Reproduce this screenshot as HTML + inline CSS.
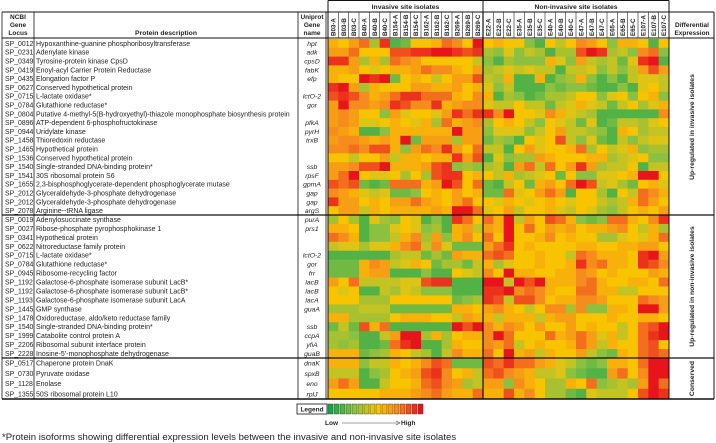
<!DOCTYPE html>
<html><head><meta charset="utf-8">
<style>
html,body{margin:0;padding:0;background:#fff;}
svg{display:block;font-family:"Liberation Sans",Arial,sans-serif;}
</style></head>
<body>
<svg id="chart" width="716" height="443" viewBox="0 0 716 443"></svg>
<script>
const isolates = ["B03-A","B03-B","B03-C","B40-A","B40-B","B40-C","B154-A","B154-B","B154-C","B162-A","B162-B","B162-C","B269-A","B269-B","B269-C",
"E22-A","E22-B","E22-C","E35-A","E35-B","E35-C","E40-A","E40-B","E40-C","E47-A","E47-B","E47-C","E65-A","E65-B","E65-C","E107-A","E107-B","E107-C"];
const loci = ["SP_0012","SP_0231","SP_0349","SP_0419","SP_0435","SP_0627","SP_0715","SP_0784","SP_0804","SP_0896","SP_0944","SP_1458","SP_1465","SP_1536","SP_1540","SP_1541","SP_1655","SP_2012","SP_2012","SP_2078",
"SP_0019","SP_0027","SP_0341","SP_0622","SP_0715","SP_0784","SP_0945","SP_1192","SP_1192","SP_1193","SP_1445","SP_1478","SP_1540","SP_1999","SP_2206","SP_2228",
"SP_0517","SP_0730","SP_1128","SP_1355"];
const descriptions = ["Hypoxanthine-guanine phosphoribosyltransferase","Adenylate kinase","Tyrosine-protein kinase CpsD","Enoyl-acyl Carrier Protein Reductase","Elongation factor P","Conserved hypothetical protein","L-lactate oxidase*","Glutathione reductase*","Putative 4-methyl-5(B-hydroxyethyl)-thiazole monophosphate biosynthesis protein","ATP-dependent 6-phosphofructokinase","Uridylate kinase","Thioredoxin reductase","Hypothetical protein","Conserved hypothetical protein","Single-stranded DNA-binding protein*","30S ribosomal protein S6","2,3-bisphosphoglycerate-dependent phosphoglycerate mutase","Glyceraldehyde-3-phosphate dehydrogenase","Glyceraldehyde-3-phosphate dehydrogenase","Arginine--tRNA ligase",
"Adenylosuccinate synthase","Ribose-phosphate pyrophosphokinase 1","Hypothetical protein","Nitroreductase family protein","L-lactate oxidase*","Glutathione reductase*","Ribosome-recycling factor","Galactose-6-phosphate isomerase subunit LacB*","Galactose-6-phosphate isomerase subunit LacB*","Galactose-6-phosphate isomerase subunit LacA","GMP synthase","Oxidoreductase, aldo/keto reductase family","Single-stranded DNA-binding protein*","Catabolite control protein A","Ribosomal subunit interface protein","Inosine-5'-monophosphate dehydrogenase",
"Chaperone protein DnaK","Pyruvate oxidase","Enolase","50S ribosomal protein L10"];
const genes = ["hpt","adk","cpsD","fabK","efp","","lctO-2","gor","","pfkA","pyrH","trxB","","","ssb","rpsF","gpmA","gap","gap","argS",
"purA","prs1","","","lctO-2","gor","frr","lacB","lacB","lacA","guaA","","ssb","ccpA","yfiA","guaB",
"dnaK","spxB","eno","rplJ"];
const sectionLabels = ["Up-regulated in invasive isolates","Up-regulated in non-invasive isolates","Conserved"];
const sectionSizes = [20,16,4];
const heatValues = [
[9,8,10,12,5,14,2,3,8,8,9,12,11,8,15, 8,9,8,8,4,2,8,6,8,11,10,8,4,9,9,8,2,8],
[10,10,12,8,8,8,13,13,14,14,15,15,14,13,14, 5,4,7,4,6,5,2,5,5,13,15,14,5,6,4,11,12,4],
[14,14,10,5,9,5,12,11,10,8,8,8,8,8,6, 4,2,5,4,4,4,9,7,4,10,6,5,6,3,7,14,15,2],
[9,9,10,8,7,8,9,9,10,12,11,11,9,8,10, 5,6,7,6,7,6,6,2,6,6,7,4,6,4,6,10,13,10],
[9,8,8,15,14,15,3,8,9,8,6,8,10,10,13, 6,5,9,2,2,9,2,4,5,9,4,2,4,2,6,7,7,6],
[14,15,10,5,9,8,8,8,10,10,9,9,10,8,9, 7,4,6,2,2,2,4,3,4,4,3,2,2,4,2,7,8,6],
[13,14,13,11,9,10,12,14,14,12,12,12,9,8,11, 9,2,5,4,2,3,5,5,6,8,8,4,7,8,4,8,9,4],
[10,15,11,11,10,11,14,13,11,11,14,9,10,11,11, 7,6,6,8,6,6,3,6,7,9,7,6,3,6,8,5,7,9],
[10,11,10,8,8,4,10,7,8,8,7,10,14,12,14, 14,11,15,8,8,7,11,9,7,6,5,2,2,2,2,2,2,11],
[10,11,10,7,7,8,9,8,7,9,5,12,9,10,11, 5,8,9,8,6,4,8,7,6,3,7,2,3,6,6,5,7,8],
[11,10,9,2,2,4,9,9,9,9,9,9,15,10,10, 4,7,7,7,4,6,8,10,6,6,5,4,2,9,8,5,6,6],
[10,11,11,10,9,10,9,15,3,10,10,10,5,10,10, 3,5,4,2,8,7,8,13,6,4,7,3,2,6,4,6,7,7],
[11,11,12,11,13,13,9,4,10,12,11,14,10,8,12, 6,6,2,8,10,7,8,8,9,12,5,8,6,7,9,4,5,5],
[8,8,6,8,8,10,6,9,9,8,9,9,14,10,13, 2,7,4,5,5,10,9,8,8,8,9,9,5,6,7,8,4,4],
[10,10,11,13,13,15,9,9,9,10,13,14,4,5,4, 5,6,2,10,12,6,12,8,10,14,10,5,6,6,8,2,6,6],
[10,12,15,8,7,7,8,5,8,5,13,14,14,8,9, 8,6,9,5,6,7,8,3,8,4,4,7,7,8,9,15,15,8],
[13,12,13,3,2,3,12,12,12,9,10,15,13,8,12, 3,2,6,8,3,9,10,8,12,15,13,6,7,5,3,8,9,7],
[11,10,9,7,6,7,3,3,4,8,9,8,10,8,9, 3,3,12,7,8,10,12,10,2,8,8,5,2,8,6,12,11,9],
[14,10,10,8,9,8,10,10,12,10,9,8,10,12,8, 8,7,9,8,7,8,9,8,7,8,8,6,5,6,9,12,10,8],
[8,10,10,6,9,8,9,9,9,9,10,9,15,15,12, 7,8,10,6,8,8,9,7,6,8,7,5,4,6,8,9,8,10],
[5,8,5,2,7,5,4,8,7,2,4,2,14,12,8, 12,9,15,6,10,8,13,12,9,4,3,4,12,12,9,8,11,14],
[9,9,8,2,4,4,7,8,7,4,5,2,9,10,6, 10,9,15,8,12,8,10,9,10,8,9,9,10,11,8,6,9,5],
[12,11,9,2,4,4,6,9,11,5,10,4,9,11,8, 12,8,15,8,8,9,11,8,9,8,8,5,5,7,8,7,9,12],
[6,7,7,5,7,7,9,11,12,6,11,7,3,3,3, 10,12,14,8,9,8,8,8,8,9,9,8,8,9,9,10,10,8],
[2,2,2,2,2,2,5,6,6,3,5,3,10,9,9, 12,13,12,8,8,9,8,8,6,12,11,9,9,9,8,14,15,10],
[3,3,3,9,11,10,6,7,9,8,3,5,5,3,6, 9,5,7,8,8,9,8,8,9,14,11,12,9,9,8,14,13,11],
[3,3,3,9,10,10,2,2,2,4,2,2,8,7,6, 11,8,15,9,9,8,8,9,9,11,10,8,9,8,8,8,10,9],
[10,8,12,6,6,6,6,7,7,13,14,14,2,2,2, 15,15,6,15,13,15,9,9,9,11,12,9,8,8,9,9,8,12],
[8,7,8,2,2,6,5,7,6,4,4,4,2,2,2, 14,14,15,11,12,11,9,8,8,12,12,9,9,6,6,8,8,8],
[8,8,8,5,5,5,8,8,8,8,8,8,3,4,5, 14,13,6,13,13,11,8,9,9,11,11,10,8,8,8,12,11,10],
[5,5,5,6,6,6,3,3,3,3,3,3,9,9,8, 10,11,9,8,6,8,11,11,5,11,4,4,9,9,8,15,15,10],
[9,9,5,5,5,5,8,9,9,9,8,8,6,10,9, 9,6,9,9,9,6,9,10,10,8,8,8,9,8,8,9,9,8],
[3,6,3,13,9,12,2,2,2,2,2,2,15,13,15, 11,9,11,10,8,10,8,8,10,8,9,8,8,6,8,12,13,15],
[5,5,4,2,2,6,10,15,15,5,9,5,8,9,9, 11,15,12,8,8,8,12,9,10,12,10,7,9,6,8,12,14,15],
[5,4,5,2,2,3,12,14,15,2,2,5,9,8,8, 11,10,12,6,8,9,8,8,9,12,10,6,9,8,8,12,13,8],
[9,9,9,3,4,5,9,8,6,5,2,6,11,9,9, 12,8,15,9,10,6,9,8,8,10,6,4,3,9,8,12,13,12],
[9,9,9,4,6,6,9,8,9,11,13,12,3,3,3, 13,12,14,12,12,10,9,7,6,4,3,4,9,9,8,12,15,15],
[6,6,6,2,4,5,8,9,10,13,14,11,8,9,6, 12,13,11,10,9,6,6,7,4,3,2,2,10,12,8,11,15,15],
[10,12,10,2,2,6,8,8,9,12,13,11,10,5,6, 10,10,4,11,9,8,5,5,9,8,12,4,5,6,5,10,15,12],
[8,8,8,8,8,9,9,9,10,11,12,10,9,9,12, 9,9,13,9,11,8,5,5,3,2,7,6,6,6,8,13,15,14]
];
const legendLevels = [0,1,2,3,4,5,6,7,8,9,10,11,12,13,14,15];

const NS="http://www.w3.org/2000/svg";
const svg=document.getElementById('chart');
function mk(tag,attrs,parent){const e=document.createElementNS(NS,tag);for(const k in attrs)e.setAttribute(k,attrs[k]);(parent||svg).appendChild(e);return e;}
const stops=[[0,[26,163,76]],[4,[140,192,64]],[7,[222,196,20]],[8,[248,196,0]],[11,[246,140,30]],[15,[232,20,27]]];
function color(v){for(let i=0;i<stops.length-1;i++){const a=stops[i],b=stops[i+1];if(v<=b[0]){const t=(v-a[0])/(b[0]-a[0]);const c=a[1].map((x,j)=>Math.round(x+(b[1][j]-x)*t));return 'rgb('+c.join(',')+')';}}return 'rgb(232,20,27)';}

const L=2,R=714,xLoc=34,xDesc=298,xGene=326,hx0=328,hx1=669,yTop=12,hdrBot=38;
const cw=(hx1-hx0)/isolates.length;
const secStart=[39,215,358],secEnd=[215,358,399];
function xPos(c){return hx0+c*cw;}
const rowY=[],rowH=[];
{let r=0;sectionSizes.forEach((n,s)=>{const h=(secEnd[s]-secStart[s])/n;for(let i=0;i<n;i++){rowY[r]=secStart[s]+i*h;rowH[r]=h;r++;}});}

heatValues.forEach((row,r)=>row.forEach((v,c)=>{
 const e=mk('rect',{x:xPos(c),y:rowY[r],width:cw+0.4,height:rowH[r]+0.4,fill:color(v)});
 
 
}));
loci.forEach((l,r)=>{
 const cy=rowY[r]+rowH[r]/2+2.5;
 const t1=mk('text',{x:5,y:cy,'font-size':6.9,fill:'#222'});t1.textContent=l;
 
 
 const t2=mk('text',{x:xLoc+2,y:cy,'font-size':7,fill:'#222'});t2.textContent=descriptions[r];
 
 
 const t3=mk('text',{x:(xDesc+xGene)/2,y:cy,'font-size':6.8,'font-style':'italic','text-anchor':'middle',fill:'#222'});t3.textContent=genes[r];
 
 
});
function txt(x,y,s,size,extra,name){const t=mk('text',Object.assign({x:x,y:y,'font-size':size,'font-weight':'bold','text-anchor':'middle',fill:'#222'},extra||{}));t.textContent=s;
 
 
 return t;}
txt(18,19,'NCBI',6.5,{},'header-locus');txt(18,27,'Gene',6.5,{},'header-locus');txt(18,35,'Locus',6.5,{},'header-locus');
txt((xLoc+xDesc)/2,35,'Protein description',6.8,{},'header-description');
txt(312,19,'Uniprot',6.5,{},'header-gene');txt(312,27,'Gene',6.5,{},'header-gene');txt(312,35,'name',6.5,{},'header-gene');
txt(692,27,'Differential',6.5,{},'header-differential');txt(692,35,'Expression',6.5,{},'header-differential');
txt((hx0+xPos(15))/2,9,'Invasive site isolates',6.8,{},'group-invasive');
txt((xPos(15)+hx1)/2,9,'Non-invasive site isolates',6.8,{},'group-noninvasive');
isolates.forEach((s,c)=>{
 const cx=xPos(c)+cw/2+2.3;
 const t=mk('text',{x:cx,y:36,'font-size':6.2,'font-weight':'bold',fill:'#222',transform:'rotate(-90 '+cx+' 36)'});t.textContent=s;
 
 
 mk('line',{x1:xPos(c),y1:yTop,x2:xPos(c),y2:hdrBot,stroke:'#222','stroke-width':0.6});
});
sectionLabels.forEach((s,i)=>{
 const cy=(secStart[i]+secEnd[i])/2, cx=694;
 const t=mk('text',{x:cx,y:cy,'font-size':6.8,'font-weight':'bold','text-anchor':'middle',fill:'#222',transform:'rotate(-90 '+cx+' '+cy+')'});t.textContent=s;
 
 
});
function ln(x1,y1,x2,y2,w){return mk('line',{x1:x1,y1:y1,x2:x2,y2:y2,stroke:'#111','stroke-width':w||0.8});}
ln(hx0,0.5,hx1,0.5,1);ln(hx0,0.5,hx0,yTop,1);ln(hx1,0.5,hx1,yTop,1);ln(xPos(15),0.5,xPos(15),yTop,1);
ln(L,yTop,R,yTop,1);ln(L,hdrBot,R,hdrBot,1);ln(L,399,R,399,1.4);
[L,xLoc,xDesc,xGene].forEach(x=>ln(x,yTop,x,399,0.8));ln(R,yTop,R,399,1);
ln(hx0,yTop,hx0,399,1);ln(hx1,yTop,hx1,399,1);ln(xPos(15),yTop,xPos(15),399,1.2);
ln(L,215,R,215,1.3);ln(L,358,R,358,1.3);
const lg=mk('g',{});


mk('rect',{x:297,y:404,width:30,height:10,fill:'#fff',stroke:'#111','stroke-width':0.8},lg);
const lt=mk('text',{x:312,y:411.5,'font-size':6.5,'font-weight':'bold','text-anchor':'middle',fill:'#222'},lg);lt.textContent='Legend';
const sw=(424-328)/legendLevels.length;
legendLevels.forEach((v,i)=>{const e=mk('rect',{x:328+i*sw,y:404,width:sw-1,height:10,fill:color(v),stroke:'#333','stroke-width':0.4},lg);
 
 });
const lo=mk('text',{x:325,y:425,'font-size':6.5,'font-weight':'bold',fill:'#222'},lg);lo.textContent='Low';
mk('line',{x1:342,y1:423,x2:398,y2:423,stroke:'#444','stroke-width':0.6},lg);
mk('path',{d:'M396,421 L400,423 L396,425',fill:'none',stroke:'#444','stroke-width':0.6},lg);
const hi=mk('text',{x:401,y:425,'font-size':6.5,'font-weight':'bold',fill:'#222'},lg);hi.textContent='High';
const fn=mk('text',{x:2,y:440,'font-size':9.6,fill:'#222'});fn.textContent='*Protein isoforms showing differential expression levels between the invasive and non-invasive site isolates';


</script>
</body></html>
